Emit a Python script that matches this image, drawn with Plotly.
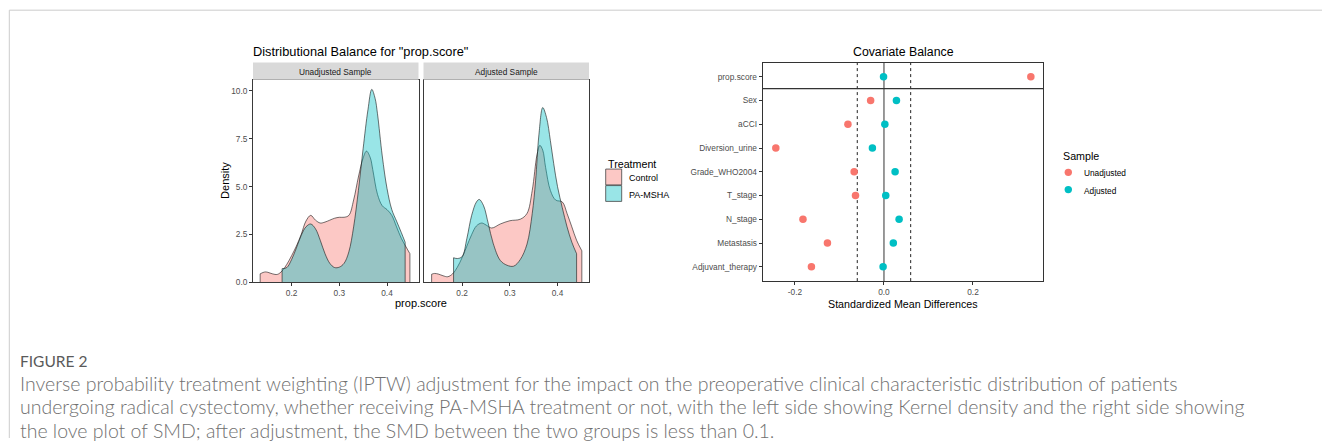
import plotly.graph_objects as go

W, H = 1322, 443

# ---------------- density curves (prop.score) ----------------
unadj_ctrl_x = [0.134, 0.14, 0.145, 0.15, 0.16, 0.17, 0.18, 0.19, 0.20, 0.21, 0.22, 0.23, 0.24,
                0.25, 0.26, 0.27, 0.28, 0.29, 0.30, 0.31, 0.32, 0.33, 0.34, 0.35, 0.357, 0.365,
                0.37, 0.38, 0.39, 0.40, 0.41, 0.42, 0.43, 0.44, 0.448]
unadj_ctrl_y = [0.45, 0.52, 0.55, 0.53, 0.45, 0.42, 0.6, 0.95, 1.4, 1.9, 2.5, 3.2, 3.5,
                3.25, 3.1, 3.15, 3.25, 3.35, 3.4, 3.4, 3.5, 4.3, 5.5, 6.5, 6.85, 6.5,
                5.9, 4.6, 4.0, 3.8, 3.5, 2.9, 2.3, 1.85, 1.5]

unadj_trt_x = [0.180, 0.19, 0.20, 0.21, 0.22, 0.23, 0.24, 0.25, 0.26, 0.27, 0.28, 0.29, 0.30,
               0.31, 0.32, 0.33, 0.34, 0.35, 0.36, 0.368, 0.375, 0.38, 0.39, 0.40, 0.41, 0.42,
               0.43, 0.438]
unadj_trt_y = [0.72, 0.78, 1.2, 1.8, 2.45, 2.9, 3.05, 2.8, 2.2, 1.5, 1.0, 0.78, 0.8,
               1.0, 1.6, 2.9, 4.8, 7.0, 9.0, 10.07, 9.6, 8.8, 6.6, 4.9, 3.8, 3.2,
               2.6, 2.1]

adj_ctrl_x = [0.136, 0.142, 0.15, 0.16, 0.17, 0.18, 0.19, 0.20, 0.21, 0.22, 0.23, 0.241, 0.25,
              0.262, 0.28, 0.30, 0.322, 0.336, 0.347, 0.357, 0.363, 0.369, 0.375, 0.385, 0.396,
              0.41, 0.42, 0.43, 0.44, 0.451]
adj_ctrl_y = [0.43, 0.47, 0.44, 0.35, 0.3, 0.45, 0.8, 1.3, 1.9, 2.5, 2.95, 3.1, 3.0,
              2.84, 3.05, 3.22, 3.3, 3.6, 4.8, 6.66, 7.15, 6.9, 6.0, 4.8, 4.3,
              4.2, 3.6, 2.9, 2.2, 1.65]

adj_trt_x = [0.182, 0.19, 0.20, 0.21, 0.22, 0.23, 0.236, 0.245, 0.255, 0.265, 0.28, 0.294, 0.308,
             0.322, 0.336, 0.347, 0.354, 0.361, 0.369, 0.377, 0.385, 0.392, 0.40, 0.41, 0.42,
             0.43, 0.44]
adj_trt_y = [1.29, 1.25, 1.35, 2.3, 3.5, 4.2, 4.33, 4.0, 3.05, 2.05, 1.15, 0.9, 0.85,
             1.2, 2.0, 3.6, 5.3, 7.7, 9.12, 8.6, 7.4, 6.2, 5.0, 3.9, 2.9,
             2.1, 1.5]

treatment_groups = ["Control", "PA-MSHA"]
facet_labels = ["Unadjusted Sample", "Adjusted Sample"]
density_ticks = [0.0, 2.5, 5.0, 7.5, 10.0]
score_ticks = [0.2, 0.3, 0.4]

# ---------------- love plot (standardized mean differences) ----------------
covariates = ["prop.score", "Sex", "aCCI", "Diversion_urine", "Grade_WHO2004",
              "T_stage", "N_stage", "Metastasis", "Adjuvant_therapy"]
smd_unadjusted = [0.330, -0.030, -0.081, -0.243, -0.067, -0.064, -0.182, -0.127, -0.163]
smd_adjusted = [-0.001, 0.028, 0.002, -0.026, 0.025, 0.004, 0.034, 0.021, -0.002]
sample_groups = ["Unadjusted", "Adjusted"]
smd_threshold = 0.06
smd_ticks = [-0.2, 0.0, 0.2]

fill_colors = ["rgba(248,118,109,0.4)", "rgba(0,191,196,0.4)"]
point_colors = ["#F8766D", "#00BFC4"]
OUTLINE = "rgba(20,20,20,0.85)"
TICK_COL = "#4D4D4D"
FONT = "Liberation Sans, Arial, sans-serif"


def px_x(px):
    return px / W


def px_y(py):
    return 1 - py / H


fig = go.Figure()

panels = [
    [(unadj_ctrl_x, unadj_ctrl_y), (unadj_trt_x, unadj_trt_y)],
    [(adj_ctrl_x, adj_ctrl_y), (adj_trt_x, adj_trt_y)],
]

for p, curves in enumerate(panels):
    xa = "x" if p == 0 else "x2"
    ya = "y" if p == 0 else "y2"
    for g, (xs, ys) in enumerate(curves):
        fig.add_trace(go.Scatter(
            x=xs, y=ys, xaxis=xa, yaxis=ya, mode="lines", name=treatment_groups[g],
            line=dict(color=OUTLINE, width=0.7, shape="spline", smoothing=1.0),
            fill="tozeroy", fillcolor=fill_colors[g], showlegend=False, hoverinfo="skip"))
        # vertical edges where the density is truncated at the data range
        fig.add_trace(go.Scatter(
            x=[xs[0], xs[0], None, xs[-1], xs[-1]], y=[0, ys[0], None, ys[-1], 0],
            xaxis=xa, yaxis=ya, mode="lines",
            line=dict(color=OUTLINE, width=0.7), showlegend=False, hoverinfo="skip"))

# love plot points
for name, vals, col in zip(sample_groups, [smd_unadjusted, smd_adjusted], point_colors):
    fig.add_trace(go.Scatter(
        x=vals, y=covariates, xaxis="x3", yaxis="y3", mode="markers", name=name,
        showlegend=False, marker=dict(size=7.5, color=col), hoverinfo="skip"))

# ---------------- axes ----------------
P1 = (253, 418.5)
P2 = (423.5, 589)
PY = (80.7, 285.7)
LP_X = (762.7, 1043.3)
LP_Y = (63.3, 284.3)

common_x = dict(range=[0.119, 0.466], tickvals=score_ticks, ticktext=[f"{v:.1f}" for v in score_ticks],
                ticks="outside", ticklen=3, tickcolor="#333", showgrid=False, zeroline=False,
                showline=True, mirror=True, linecolor="#3a3a3a", linewidth=1,
                tickfont=dict(size=8.3, color=TICK_COL, family=FONT))
common_y = dict(range=[0, 10.57], showgrid=False, zeroline=False,
                showline=True, mirror=True, linecolor="#3a3a3a", linewidth=1,
                domain=[px_y(PY[1]), px_y(PY[0])])

fig.update_layout(
    xaxis=dict(common_x, domain=[px_x(P1[0]), px_x(P1[1])], anchor="y"),
    yaxis=dict(common_y, anchor="x", tickvals=density_ticks,
               ticktext=[f"{v:.1f}" for v in density_ticks], ticks="outside", ticklen=3,
               tickcolor="#333", tickfont=dict(size=8.3, color=TICK_COL, family=FONT)),
    xaxis2=dict(common_x, domain=[px_x(P2[0]), px_x(P2[1])], anchor="y2"),
    yaxis2=dict(common_y, anchor="x2", showticklabels=False, ticks=""),
    xaxis3=dict(domain=[px_x(LP_X[0]), px_x(LP_X[1])], anchor="y3", range=[-0.2725, 0.358],
                tickvals=smd_ticks, ticktext=[f"{v:.1f}" for v in smd_ticks],
                ticks="outside", ticklen=3, tickcolor="#333", showgrid=False, zeroline=False,
                showline=True, mirror=True, linecolor="#333", linewidth=1.2,
                tickfont=dict(size=8.3, color=TICK_COL, family=FONT)),
    yaxis3=dict(domain=[px_y(LP_Y[1]), px_y(LP_Y[0])], anchor="x3", type="category",
                categoryorder="array", categoryarray=covariates[::-1],
                range=[-0.6, len(covariates) - 0.4],
                ticks="outside", ticklen=3, tickcolor="#333", showgrid=False, zeroline=False,
                showline=True, mirror=True, linecolor="#333", linewidth=1.2,
                tickfont=dict(size=8.3, color=TICK_COL, family=FONT)),
)

# ---------------- reference lines in the love plot ----------------
fig.add_shape(type="line", xref="x3", yref="y3 domain", x0=0, x1=0, y0=0, y1=1,
              line=dict(color="#555", width=1.2), layer="below")
for s in (-smd_threshold, smd_threshold):
    fig.add_shape(type="line", xref="x3", yref="y3 domain", x0=s, x1=s, y0=0, y1=1,
                  line=dict(color="#222", width=1, dash="3px,3px"), layer="below")
fig.add_shape(type="line", xref="x3 domain", yref="y3", x0=0, x1=1,
              y0=len(covariates) - 1.5, y1=len(covariates) - 1.5,
              line=dict(color="#333", width=1.2))


# ---------------- text helper ----------------
def label(text, x, y, size, xanchor="left", angle=0, color="black", family=FONT, weight=None):
    f = dict(size=size, color=color, family=family)
    if weight:
        f["weight"] = weight
    fig.add_annotation(x=px_x(x), y=px_y(y), xref="paper", yref="paper", text=text,
                       showarrow=False, xanchor=xanchor, yanchor="middle", textangle=angle,
                       font=f)


# ---------------- facet strips ----------------
for (a, b), lab in zip([P1, P2], facet_labels):
    fig.add_shape(type="rect", xref="paper", yref="paper", x0=px_x(a), x1=px_x(b),
                  y0=px_y(PY[0]), y1=px_y(63.3), fillcolor="#D9D9D9", line=dict(width=0))
    label(lab, (a + b) / 2, 72.5, 8.3, xanchor="center", color="#1A1A1A")

# ---------------- titles and axis labels ----------------
label('Distributional Balance for "prop.score"', 251, 52.5, 12.8)
label("Covariate Balance", 903, 52.5, 12.3, xanchor="center")
label("prop.score", 421, 306.5, 11, xanchor="center")
label("Density", 225, 183, 11, xanchor="center", angle=-90)
label("Standardized Mean Differences", 903, 307.5, 10.7, xanchor="center")

# ---------------- legend: Treatment ----------------
label("Treatment", 605.5, 165.5, 10.7)
for g, name in enumerate(treatment_groups):
    top = 171 + 16.7 * g
    fig.add_shape(type="rect", xref="paper", yref="paper",
                  x0=px_x(605.7), x1=px_x(621.7), y0=px_y(top + 16), y1=px_y(top),
                  fillcolor=fill_colors[g], line=dict(color="#444", width=0.8))
    label(name, 626.5, top + 9.5, 9)

# ---------------- legend: Sample ----------------
label("Sample", 1060.5, 157.5, 10.7)
for g, name in enumerate(sample_groups):
    cy = 174.3 + 17.4 * g
    fig.add_shape(type="circle", xref="paper", yref="paper",
                  x0=px_x(1068.3 - 3.7), x1=px_x(1068.3 + 3.7),
                  y0=px_y(cy + 3.7), y1=px_y(cy - 3.7),
                  fillcolor=point_colors[g], line=dict(width=0))
    label(name, 1081.5, cy + 1, 8.3)

# ---------------- page frame and figure caption ----------------
fig.add_shape(type="line", xref="paper", yref="paper", x0=px_x(9.3), x1=1,
              y0=px_y(10.3), y1=px_y(10.3), line=dict(color="#CCCCCC", width=1))
fig.add_shape(type="line", xref="paper", yref="paper", x0=px_x(9.3), x1=px_x(9.3),
              y0=0, y1=px_y(10.3), line=dict(color="#CCCCCC", width=1))

CAP_FONT = "Lato, Open Sans, sans-serif"
label("FIGURE 2", 18, 365.5, 15.5, color="#5A5A5A", family=CAP_FONT, weight=400)
caption_lines = [
    "Inverse probability treatment weighting (IPTW) adjustment for the impact on the preoperative clinical characteristic distribution of patients",
    "undergoing radical cystectomy, whether receiving PA-MSHA treatment or not, with the left side showing Kernel density and the right side showing",
    "the love plot of SMD; after adjustment, the SMD between the two groups is less than 0.1.",
]
caption_y = [387.5, 411.5, 435.5]
for line, cy in zip(caption_lines, caption_y):
    label(line, 18, cy, 19.5, color="#707070", family=CAP_FONT, weight=300)

fig.update_layout(
    width=W, height=H, margin=dict(l=0, r=0, t=0, b=0),
    paper_bgcolor="white", plot_bgcolor="white",
    font=dict(family=FONT), showlegend=False,
)

fig.write_html("out.html")
